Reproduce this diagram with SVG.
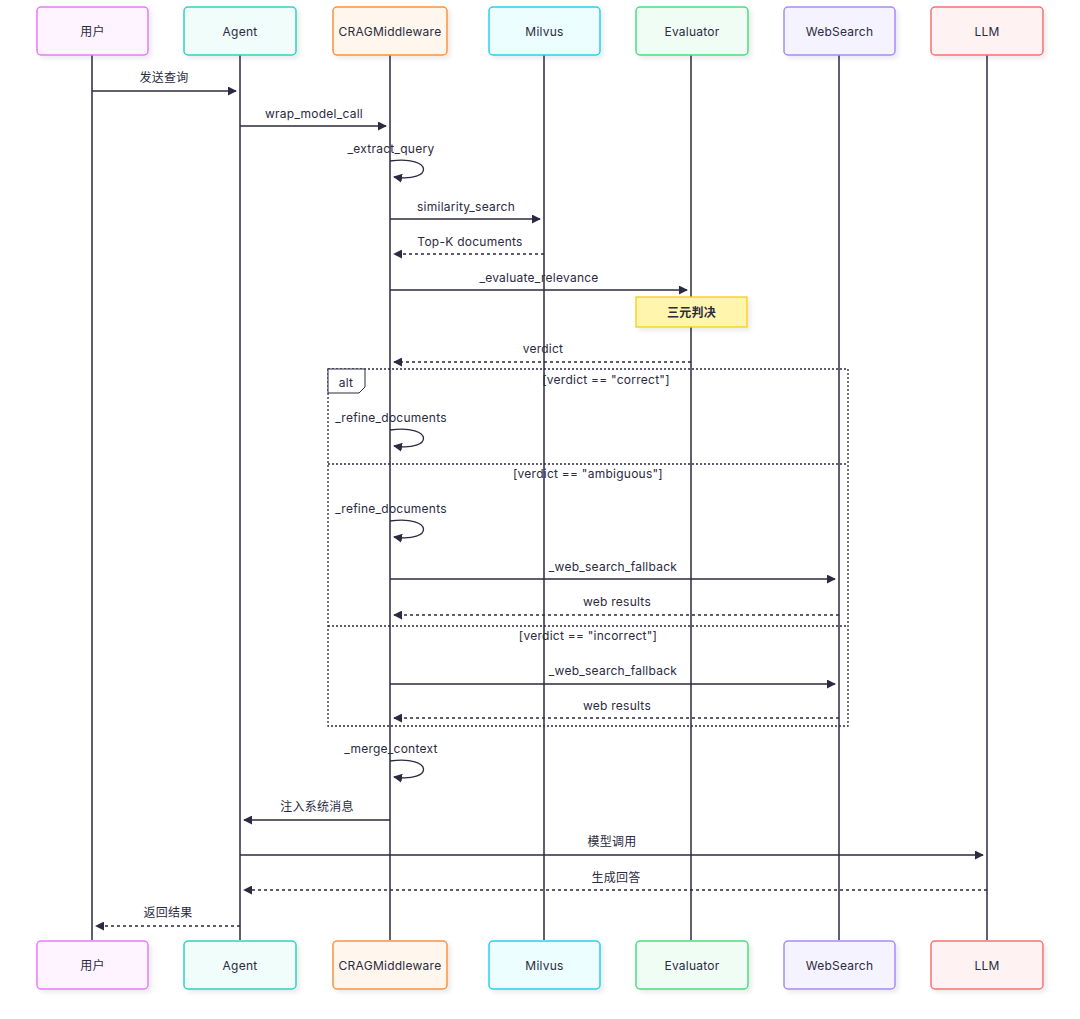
<svg xmlns="http://www.w3.org/2000/svg" width="1080" height="1019" viewBox="0 0 1080 1019">
<defs>
<marker id="ah" viewBox="0 0 10 10" refX="9" refY="5" markerWidth="9" markerHeight="9" markerUnits="userSpaceOnUse" orient="auto">
<path d="M0,0 L10,5 L0,10 z" fill="#2b2a40"/>
</marker>
<filter id="sh" x="-10%" y="-10%" width="130%" height="140%">
<feDropShadow dx="3" dy="3" stdDeviation="2" flood-color="#000" flood-opacity="0.08"/>
</filter>
<style>
text{font-family:Inter,"Noto Sans","Noto Sans CJK SC",sans-serif;font-size:12px;letter-spacing:0.25px;fill:#2b2a40;}
.c{text-anchor:middle;dominant-baseline:central;}
.box{stroke-width:1.5;filter:url(#sh);}
.life{stroke:#2b2a40;stroke-width:1.5;fill:none;}
.msg{stroke:#2b2a40;stroke-width:1.3;fill:none;marker-end:url(#ah);}
.dash{stroke-dasharray:3,3;}
.alt{fill:none;stroke:#2b2a40;stroke-width:1.3;stroke-dasharray:2,2;}
</style>
</defs>

<g id="lifelines">
<line class="life" x1="92" y1="55" x2="92" y2="940"/>
<line class="life" x1="240" y1="55" x2="240" y2="940"/>
<line class="life" x1="390" y1="55" x2="390" y2="940"/>
<line class="life" x1="544" y1="55" x2="544" y2="940"/>
<line class="life" x1="691" y1="55" x2="691" y2="940"/>
<line class="life" x1="839" y1="55" x2="839" y2="940"/>
<line class="life" x1="987" y1="55" x2="987" y2="940"/>
</g>

<g id="p-user"><rect class="box" x="37" y="7" width="111" height="48" rx="4" fill="#fdf4ff" stroke="#e879f9"/><text class="c" x="92.5" y="31">用户</text>
<rect class="box" x="37" y="941" width="111" height="48" rx="4" fill="#fdf4ff" stroke="#e879f9"/><text class="c" x="92.5" y="965">用户</text></g>
<g id="p-agent"><rect class="box" x="184" y="7" width="112" height="48" rx="4" fill="#f0fdfa" stroke="#2dd4bf"/><text class="c" x="240" y="31">Agent</text>
<rect class="box" x="184" y="941" width="112" height="48" rx="4" fill="#f0fdfa" stroke="#2dd4bf"/><text class="c" x="240" y="965">Agent</text></g>
<g id="p-crag"><rect class="box" x="333" y="7" width="114" height="48" rx="4" fill="#fff7ed" stroke="#fb923c"/><text class="c" x="390" y="31">CRAGMiddleware</text>
<rect class="box" x="333" y="941" width="114" height="48" rx="4" fill="#fff7ed" stroke="#fb923c"/><text class="c" x="390" y="965">CRAGMiddleware</text></g>
<g id="p-milvus"><rect class="box" x="489" y="7" width="111" height="48" rx="4" fill="#ecfeff" stroke="#22d3ee"/><text class="c" x="544.5" y="31">Milvus</text>
<rect class="box" x="489" y="941" width="111" height="48" rx="4" fill="#ecfeff" stroke="#22d3ee"/><text class="c" x="544.5" y="965">Milvus</text></g>
<g id="p-eval"><rect class="box" x="636" y="7" width="112" height="48" rx="4" fill="#f0fdf4" stroke="#4ade80"/><text class="c" x="692" y="31">Evaluator</text>
<rect class="box" x="636" y="941" width="112" height="48" rx="4" fill="#f0fdf4" stroke="#4ade80"/><text class="c" x="692" y="965">Evaluator</text></g>
<g id="p-web"><rect class="box" x="784" y="7" width="111" height="48" rx="4" fill="#f5f3ff" stroke="#a78bfa"/><text class="c" x="839.5" y="31">WebSearch</text>
<rect class="box" x="784" y="941" width="111" height="48" rx="4" fill="#f5f3ff" stroke="#a78bfa"/><text class="c" x="839.5" y="965">WebSearch</text></g>
<g id="p-llm"><rect class="box" x="931" y="7" width="112" height="48" rx="4" fill="#fef2f2" stroke="#f87171"/><text class="c" x="987" y="31">LLM</text>
<rect class="box" x="931" y="941" width="112" height="48" rx="4" fill="#fef2f2" stroke="#f87171"/><text class="c" x="987" y="965">LLM</text></g>

<g id="note">
<rect x="636" y="297" width="111" height="30" fill="#fff5ad" stroke="#facc15" stroke-width="1.3" filter="url(#sh)"/>
<text class="c" x="691.5" y="312" font-weight="bold">三元判决</text>
</g>

<g id="alt-frame">
<rect class="alt" x="328" y="369" width="520" height="357"/>
<path d="M328,369 H365 V387 L359,393 H328 Z" fill="#fff" stroke="#2b2a40" stroke-width="1"/>
<text class="c" x="346" y="382">alt</text>
<text class="c" x="606" y="379">[verdict == "correct"]</text>
<line class="alt" x1="328" y1="464" x2="848" y2="464"/>
<text class="c" x="588" y="473">[verdict == "ambiguous"]</text>
<line class="alt" x1="328" y1="626" x2="848" y2="626"/>
<text class="c" x="588" y="635">[verdict == "incorrect"]</text>
</g>

<g id="connectors">
<line class="msg" x1="92" y1="91" x2="236" y2="91"/>
<text class="c" x="164" y="77">发送查询</text>
<line class="msg" x1="240" y1="126" x2="386" y2="126"/>
<text class="c" x="314" y="113">wrap_model_call</text>
<path class="msg" d="M390,161 C434,155 434,183 394,177"/>
<text class="c" x="391" y="148">_extract_query</text>
<line class="msg" x1="390" y1="219" x2="540" y2="219"/>
<text class="c" x="466" y="206">similarity_search</text>
<line class="msg dash" x1="544" y1="254" x2="394" y2="254"/>
<text class="c" x="470" y="241">Top-K documents</text>
<line class="msg" x1="390" y1="290" x2="687" y2="290"/>
<text class="c" x="539" y="277">_evaluate_relevance</text>
<line class="msg dash" x1="691" y1="362" x2="394" y2="362"/>
<text class="c" x="543" y="348">verdict</text>

<path class="msg" d="M390,430 C434,424 434,452 394,446"/>
<text class="c" x="391" y="417">_refine_documents</text>
<path class="msg" d="M390,521 C434,515 434,543 394,537"/>
<text class="c" x="391" y="508">_refine_documents</text>
<line class="msg" x1="390" y1="579" x2="835" y2="579"/>
<text class="c" x="613" y="566">_web_search_fallback</text>
<line class="msg dash" x1="839" y1="615" x2="394" y2="615"/>
<text class="c" x="617" y="601">web results</text>
<line class="msg" x1="390" y1="684" x2="835" y2="684"/>
<text class="c" x="613" y="670">_web_search_fallback</text>
<line class="msg dash" x1="839" y1="718" x2="394" y2="718"/>
<text class="c" x="617" y="705">web results</text>

<path class="msg" d="M390,761 C434,755 434,783 394,777"/>
<text class="c" x="391" y="748">_merge_context</text>
<line class="msg" x1="390" y1="820" x2="244" y2="820"/>
<text class="c" x="317" y="806">注入系统消息</text>
<line class="msg" x1="240" y1="855" x2="983" y2="855"/>
<text class="c" x="612" y="841">模型调用</text>
<line class="msg dash" x1="987" y1="890" x2="244" y2="890"/>
<text class="c" x="616" y="877">生成回答</text>
<line class="msg dash" x1="240" y1="926" x2="96" y2="926"/>
<text class="c" x="168" y="912">返回结果</text>
</g>
</svg>
